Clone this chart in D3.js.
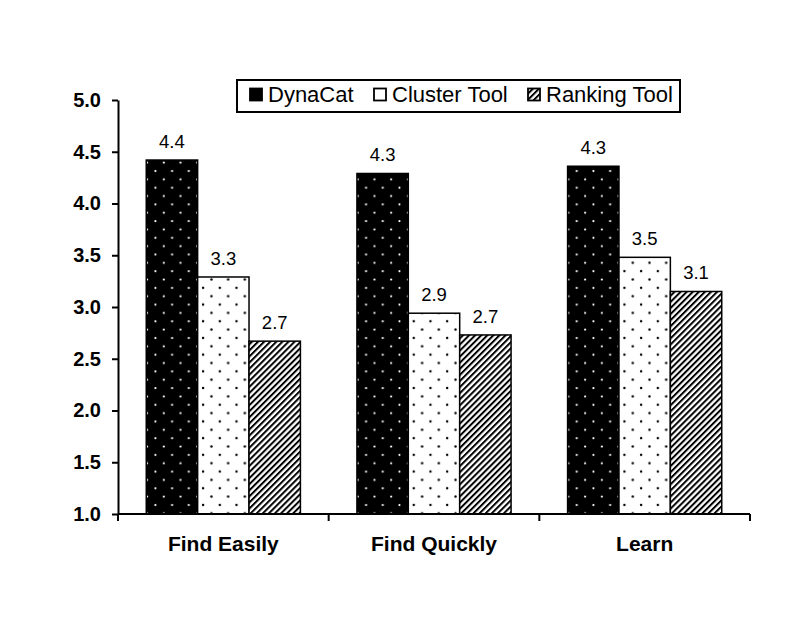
<!DOCTYPE html>
<html>
<head>
<meta charset="utf-8">
<script src="https://cdn.jsdelivr.net/npm/d3@7"></script>
<style>
  body { margin: 0; background: #fff; }
  text { font-family: "Liberation Sans", Arial, Helvetica, sans-serif; fill: #000; }
</style>
</head>
<body>
<div id="graph"></div>
<script>
var categories = ['Find Easily', 'Find Quickly', 'Learn'];
var series = ['DynaCat', 'Cluster Tool', 'Ranking Tool'];
// bar heights, one array per tool
var dynacat = [4.42, 4.29, 4.36];
var cluster = [3.29, 2.94, 3.48];
var ranking = [2.67, 2.73, 3.15];
// the numbers printed above the bars
var dynacatLabels = ['4.4', '4.3', '4.3'];
var clusterLabels = ['3.3', '2.9', '3.5'];
var rankingLabels = ['2.7', '2.7', '3.1'];
var yTicks = [1.0, 1.5, 2.0, 2.5, 3.0, 3.5, 4.0, 4.5, 5.0];

var values = [dynacat, cluster, ranking];
var labels = [dynacatLabels, clusterLabels, rankingLabels];
var fills = ['url(#dotsBlack)', 'url(#dotsWhite)', 'url(#hatch)'];

var width = 800, height = 627;

var svg = d3.select('#graph')
            .append('svg')
            .attr('width', width)
            .attr('height', height);

var defs = svg.append('defs');

// white dots on black
var p1 = defs.append('pattern')
   .attr('id', 'dotsBlack')
   .attr('patternUnits', 'userSpaceOnUse')
   .attr('width', 16.7).attr('height', 16.7)
   .attr('x', 146).attr('y', 0);
p1.append('rect').attr('width', 16.7).attr('height', 16.7).attr('fill', '#000');
p1.append('circle').attr('cx', 8.3).attr('cy', 4).attr('r', 1.1).attr('fill', '#fff');
p1.append('circle').attr('cx', 0).attr('cy', 12.35).attr('r', 1.1).attr('fill', '#fff');
p1.append('circle').attr('cx', 16.7).attr('cy', 12.35).attr('r', 1.1).attr('fill', '#fff');

// black dots on white
var p2 = defs.append('pattern')
   .attr('id', 'dotsWhite')
   .attr('patternUnits', 'userSpaceOnUse')
   .attr('width', 16.7).attr('height', 16.7)
   .attr('x', 198).attr('y', 0);
p2.append('rect').attr('width', 16.7).attr('height', 16.7).attr('fill', '#fff');
p2.append('circle').attr('cx', 4).attr('cy', 4).attr('r', 1.2).attr('fill', '#000');
p2.append('circle').attr('cx', 12.35).attr('cy', 12.35).attr('r', 1.2).attr('fill', '#000');

// diagonal hatch
var p3 = defs.append('pattern')
   .attr('id', 'hatch')
   .attr('patternUnits', 'userSpaceOnUse')
   .attr('width', 4.3).attr('height', 4.3)
   .attr('patternTransform', 'rotate(45)');
p3.append('rect').attr('width', 4.3).attr('height', 4.3).attr('fill', '#fff');
p3.append('line')
   .attr('x1', 1).attr('y1', 0).attr('x2', 1).attr('y2', 4.3)
   .attr('stroke', '#000').attr('stroke-width', 2);

var y = d3.scaleLinear().domain([1, 5]).range([514, 100]);

var x = d3.scaleBand().domain(categories).range([118, 750]);

var xInner = d3.scaleBand()
               .domain(series)
               .range([0, x.bandwidth()])
               .paddingInner(0)
               .paddingOuter(0.55);

// bars
var groups = svg.selectAll('g.group')
   .data(categories)
   .enter()
   .append('g')
   .attr('class', 'group')
   .attr('transform', function(d) { return 'translate(' + x(d) + ',0)'; });

groups.each(function(cat, ci) {
  var g = d3.select(this);
  series.forEach(function(s, si) {
    var v = values[si][ci];
    g.append('rect')
     .attr('x', xInner(s))
     .attr('y', y(v))
     .attr('width', xInner.bandwidth())
     .attr('height', y(1) - y(v))
     .attr('fill', fills[si])
     .attr('stroke', '#000')
     .attr('stroke-width', 1.5);
    g.append('text')
     .attr('x', xInner(s) + xInner.bandwidth() / 2)
     .attr('y', y(v) - 12)
     .attr('text-anchor', 'middle')
     .attr('font-size', 18.5)
     .text(labels[si][ci]);
  });
});

// y axis
var yAxis = d3.axisLeft(y)
              .tickValues(yTicks)
              .tickFormat(d3.format('.1f'))
              .tickSize(6)
              .tickSizeOuter(0)
              .tickPadding(11);

var gy = svg.append('g')
   .attr('transform', 'translate(118,0)')
   .call(yAxis);
gy.select('.domain').attr('stroke', '#000').attr('stroke-width', 2);
gy.selectAll('.tick line').attr('stroke', '#000').attr('stroke-width', 2);
gy.selectAll('.tick text')
  .attr('font-size', 20)
  .attr('font-weight', 'bold')
  .attr('font-family', '"Liberation Sans", Arial, sans-serif')
  .attr('fill', '#000');

// x axis: ticks between the groups
var xAxisLine = svg.append('g');
xAxisLine.append('line')
   .attr('x1', x.range()[0]).attr('x2', x.range()[1])
   .attr('y1', y(1)).attr('y2', y(1))
   .attr('stroke', '#000').attr('stroke-width', 2);
var bounds = categories.map(function(c) { return x(c); }).concat([x.range()[1]]);
xAxisLine.selectAll('line.tick')
   .data(bounds)
   .enter()
   .append('line')
   .attr('class', 'tick')
   .attr('x1', function(d) { return d; }).attr('x2', function(d) { return d; })
   .attr('y1', y(1)).attr('y2', y(1) + 7)
   .attr('stroke', '#000').attr('stroke-width', 2);

svg.selectAll('text.cat')
   .data(categories)
   .enter()
   .append('text')
   .attr('class', 'cat')
   .attr('x', function(d) { return x(d) + x.bandwidth() / 2; })
   .attr('y', 551)
   .attr('text-anchor', 'middle')
   .attr('font-size', 21)
   .attr('font-weight', 'bold')
   .text(function(d) { return d; });

// legend
var legend = svg.append('g');
legend.append('rect')
   .attr('x', 237).attr('y', 80)
   .attr('width', 443).attr('height', 32)
   .attr('fill', '#fff')
   .attr('stroke', '#000')
   .attr('stroke-width', 2);

var swatchX = [250, 374, 528];
var swatchFills = ['#000', '#fff', 'url(#hatch)'];
series.forEach(function(s, i) {
  legend.append('rect')
     .attr('x', swatchX[i]).attr('y', 88.5)
     .attr('width', 12).attr('height', 12)
     .attr('fill', swatchFills[i])
     .attr('stroke', '#000')
     .attr('stroke-width', 1.8);
  legend.append('text')
     .attr('x', swatchX[i] + 18)
     .attr('y', 102)
     .attr('font-size', 22)
     .text(s);
});
</script>
</body>
</html>
